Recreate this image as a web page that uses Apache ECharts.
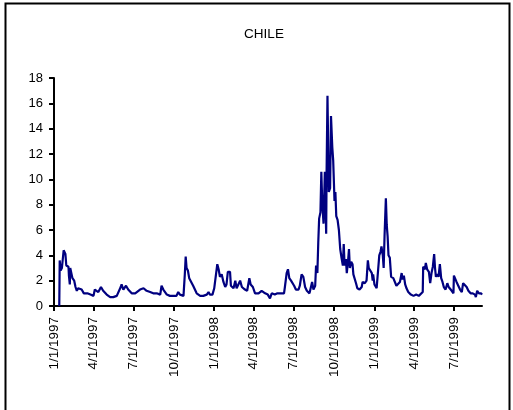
<!DOCTYPE html>
<html>
<head>
<meta charset="utf-8">
<script src="https://cdn.jsdelivr.net/npm/echarts@6/dist/echarts.min.js"></script>
<style>html,body{margin:0;padding:0;background:#fff}#c{width:513px;height:410px}</style>
</head>
<body>
<div id="c"></div>
<script>
// x values: days elapsed since 1 Jan 1997
const days = [12,13,15,18,22,26,28,33,34,36,37,39,42,46,49,52,55,63,68,76,83,90,93,97,101,107,112,120,128,135,143,147,152,154,158,164,169,177,181,185,188,196,204,211,219,226,234,242,245,249,257,264,272,279,283,287,295,298,300,302,305,308,311,317,325,333,340,348,352,355,361,365,369,372,375,378,382,386,390,393,396,401,403,409,413,416,420,424,428,431,435,440,445,448,453,458,466,473,481,487,492,496,503,509,513,519,524,526,530,533,536,540,544,547,551,557,560,564,568,572,576,582,585,588,591,595,597,600,602,604,607,609,611,614,617,620,621,623,626,629,631,634,636,639,641,643,646,649,652,655,658,660,662,665,667,670,672,674,677,680,682,685,688,691,696,701,703,708,712,715,717,720,724,726,727,730,735,739,741,744,746,749,751,753,756,758,760,762,765,768,773,777,780,784,788,792,794,797,800,803,807,813,819,825,828,831,835,840,841,845,847,850,854,857,860,863,866,868,870,873,876,879,882,885,888,892,896,899,902,906,910,911,914,917,921,925,929,932,936,940,944,949,954,959,961,964,968,973,975];
const values = [0,3.6,2.8,3.0,4.4,4.1,3.2,3.1,2.4,1.7,3.0,2.9,2.2,2.0,1.5,1.2,1.4,1.3,1.0,1.0,0.9,0.8,1.3,1.4,1.1,1.5,1.2,0.9,0.7,0.7,0.8,0.8,1.5,1.7,1.3,1.6,1.3,1.0,0.9,1.0,0.9,1.3,1.4,1.2,1.1,1.0,1.0,0.9,1.6,1.3,0.9,0.8,0.8,0.8,1.1,0.9,0.8,2.5,3.9,3.0,2.8,2.2,2.0,1.6,1.0,0.8,0.8,0.9,1.1,0.9,0.9,1.4,1.3,3.3,2.9,2.3,2.5,1.9,1.5,1.7,2.7,2.7,1.6,1.4,2.0,1.4,1.5,2.0,1.5,1.6,1.3,1.2,2.2,1.7,1.5,1.0,1.0,1.2,1.0,0.9,0.6,1.0,0.9,1.0,0.9,1.0,1.0,1.5,2.6,2.9,2.2,2.0,2.1,1.6,1.3,1.3,1.6,2.5,2.3,1.5,1.2,1.0,0.9,1.9,1.3,1.6,3.2,2.6,5.0,6.9,7.4,10.6,8.2,6.5,10.6,5.7,10.6,16.6,9.0,9.3,15.0,12.5,11.5,8.3,9.0,7.1,6.8,6.0,4.5,3.8,3.2,4.9,3.2,3.7,2.6,3.6,4.5,3.0,3.5,3.3,2.5,2.4,1.8,1.4,1.3,1.5,1.9,1.8,2.0,3.6,3.0,3.0,2.6,2.0,2.5,1.7,1.4,1.4,4.0,4.3,4.7,4.0,3.0,5.5,8.5,6.4,5.5,4.0,3.8,2.3,2.2,2.2,1.6,1.7,1.9,2.6,2.1,2.4,1.7,1.4,1.1,0.9,0.8,0.9,1.0,0.8,0.8,1.1,3.1,2.9,3.4,2.9,2.7,1.8,2.6,3.1,4.1,3.0,2.3,2.5,2.3,3.3,2.2,1.9,1.5,1.3,1.8,1.5,1.6,1.2,1.0,2.4,2.3,1.9,1.6,1.3,1.1,1.8,1.8,1.5,1.2,1.0,1.0,0.9,0.7,1.2,1.0,1.0,0.9];
const tickDays = [0,90,181,273,365,455,546,638,730,820,911];
const tickLabels = ['1/1/1997','4/1/1997','7/1/1997','10/1/1997','1/1/1998','4/1/1998','7/1/1998','10/1/1998','1/1/1999','4/1/1999','7/1/1999'];
const yTicks = [0,2,4,6,8,10,12,14,16,18];

const n = Math.min(days.length, values.length);
const seriesData = [];
for (let i = 0; i < n; i++) seriesData.push([days[i], values[i]]);

const chart = echarts.init(document.getElementById('c'), null, {renderer: 'canvas'});
const font = 'Arial, "Liberation Sans", sans-serif';
chart.setOption({
  animation: false,
  backgroundColor: '#fff',
  title: {
    text: 'CHILE', left: 259, top: 22, textAlign: 'center',
    textStyle: {fontFamily: font, fontSize: 13.5, fontWeight: 'normal', color: '#000'}
  },
  graphic: [{
    type: 'rect', shape: {x: 5.5, y: 3.5, width: 504, height: 420},
    style: {fill: 'none', stroke: '#000', lineWidth: 2}, silent: true, z: 100
  }],
  grid: {left: 54, right: 31, top: 78, bottom: 104},
  xAxis: {
    type: 'value', min: 0, max: 975,
    splitLine: {show: false},
    axisLine: {show: true, lineStyle: {color: '#000', width: 2}},
    axisTick: {show: true, customValues: tickDays, length: 5, lineStyle: {color: '#000', width: 2}},
    axisLabel: {
      customValues: tickDays, rotate: 90, margin: 11,
      fontFamily: font, fontSize: 13.5, color: '#000',
      formatter: function (v) { const i = tickDays.indexOf(v); return i >= 0 ? tickLabels[i] : ''; }
    }
  },
  yAxis: {
    type: 'value', min: 0, max: 18, interval: 2,
    splitLine: {show: false},
    axisLine: {show: true, lineStyle: {color: '#000', width: 2}},
    axisTick: {show: true, length: 5, lineStyle: {color: '#000', width: 2}},
    axisLabel: {
      margin: 11, fontFamily: font, fontSize: 13, color: '#000',
      formatter: function (v) { return yTicks.indexOf(v) >= 0 ? String(v) : ''; }
    }
  },
  series: [{
    type: 'line', data: seriesData, showSymbol: false, symbol: 'none',
    lineStyle: {color: '#000080', width: 2.2}, itemStyle: {color: '#000080'}
  }]
});
</script>
</body>
</html>
